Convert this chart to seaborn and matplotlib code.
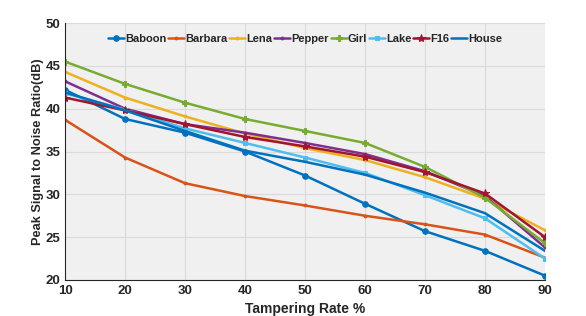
import matplotlib
matplotlib.use("Agg")
import matplotlib.pyplot as plt
import seaborn as sns
import pandas as pd

rates = [10, 20, 30, 40, 50, 60, 70, 80, 90]
baboon = [42.2, 38.8, 37.2, 35.0, 32.2, 28.9, 25.7, 23.4, 20.5]
barbara = [38.7, 34.3, 31.3, 29.8, 28.7, 27.5, 26.5, 25.3, 22.6]
lena = [44.3, 41.3, 39.1, 37.1, 35.4, 34.0, 32.0, 29.5, 25.8]
pepper = [43.2, 40.0, 38.2, 37.2, 36.0, 34.7, 32.7, 29.8, 23.8]
girl = [45.5, 42.9, 40.7, 38.8, 37.4, 36.0, 33.2, 29.6, 24.3]
lake = [41.8, 39.9, 37.7, 36.0, 34.3, 32.5, 29.9, 27.2, 22.5]
f16 = [41.3, 39.8, 38.2, 36.7, 35.6, 34.4, 32.6, 30.1, 25.0]
house = [41.9, 39.8, 37.4, 35.1, 33.8, 32.3, 30.2, 27.8, 23.4]

series = [
    ("Baboon", baboon, "#0072BD", "o", 4),
    ("Barbara", barbara, "#D95319", ".", 4),
    ("Lena", lena, "#EDB120", ".", 4),
    ("Pepper", pepper, "#7E2F8E", ".", 4),
    ("Girl", girl, "#77AC30", "P", 5),
    ("Lake", lake, "#4DBEEE", "s", 3.5),
    ("F16", f16, "#A2142F", "*", 6),
    ("House", house, "#0072BD", None, 0),
]

sns.set_style("white")
plt.rcParams["font.family"] = ["Liberation Sans", "DejaVu Sans"]
plt.rcParams["font.weight"] = "bold"

fig = plt.figure(figsize=(5.86, 3.16), dpi=100)
ax = fig.add_axes([0.111, 0.114, 0.819, 0.813])
ax.set_facecolor("#F0F0F0")

for name, vals, col, mk, ms in series:
    df = pd.DataFrame({"rate": rates, "psnr": vals})
    kw = {}
    if mk is not None:
        kw = dict(marker=mk, markersize=ms, markeredgecolor=col, markerfacecolor=col)
    sns.lineplot(data=df, x="rate", y="psnr", color=col, linewidth=1.8, ax=ax,
                 label=name, **kw)

ax.set_xlim(10, 90)
ax.set_ylim(20, 50)
ax.set_xticks(rates)
ax.set_yticks([20, 25, 30, 35, 40, 45, 50])
ax.grid(True, color="#DADADA", linewidth=0.8)
ax.set_axisbelow(True)
for s in ["top", "right"]:
    ax.spines[s].set_visible(False)
for s in ["left", "bottom"]:
    ax.spines[s].set_color("#262626")
    ax.spines[s].set_linewidth(0.8)
ax.tick_params(axis="both", labelsize=9.5, colors="#262626", length=3, direction="in")
for lbl in ax.get_xticklabels() + ax.get_yticklabels():
    lbl.set_fontweight("bold")
ax.set_xlabel("Tampering Rate %", fontsize=10, fontweight="bold", color="#262626")
ax.set_ylabel("Peak Signal to Noise Ratio(dB)", fontsize=9.2, fontweight="bold",
              color="#262626", labelpad=1)

leg = ax.legend(loc="upper center", ncol=8, frameon=False,
                handlelength=1.45, handletextpad=0.1, columnspacing=0.15,
                bbox_to_anchor=(0.5, 1.0), borderaxespad=0.6,
                prop={"weight": "bold", "size": 8})
for t in leg.get_texts():
    t.set_color("#262626")

fig.savefig("out.png", dpi=100, facecolor="white")
